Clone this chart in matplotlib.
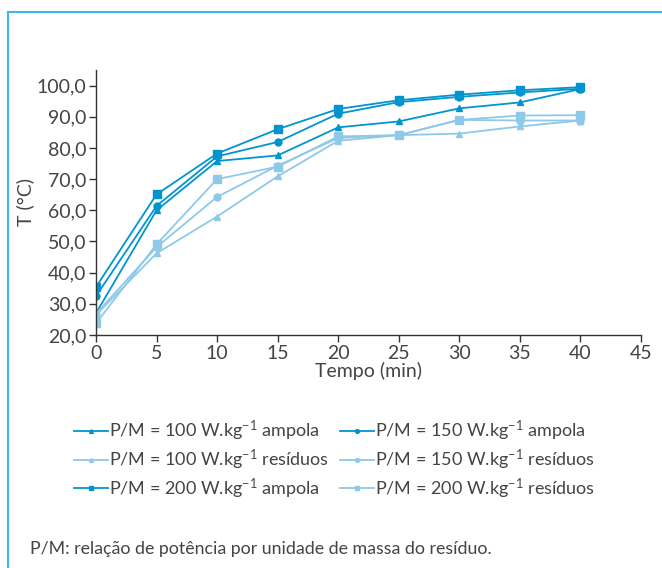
import matplotlib
matplotlib.use("Agg")
import matplotlib.pyplot as plt
from matplotlib.lines import Line2D

plt.rcParams['font.family'] = ['Lato', 'DejaVu Sans']
plt.rcParams['font.weight'] = 'normal'
plt.rcParams['mathtext.fontset'] = 'custom'
plt.rcParams['mathtext.rm'] = 'Lato'
plt.rcParams['mathtext.it'] = 'Lato'

tempo = [0, 5, 10, 15, 20, 25, 30, 35, 40]
p100_ampola = [27.0, 60.0, 75.8, 77.6, 86.6, 88.5, 92.7, 94.6, 98.9]
p150_ampola = [32.5, 61.4, 77.3, 81.9, 91.0, 94.7, 96.4, 97.8, 99.0]
p200_ampola = [35.4, 65.1, 78.2, 86.0, 92.5, 95.3, 97.1, 98.5, 99.5]
p100_residuos = [26.4, 46.2, 58.0, 70.9, 82.3, 84.1, 84.6, 86.9, 88.8]
p150_residuos = [26.8, 48.2, 64.3, 74.3, 83.2, 84.1, 89.0, 88.8, 88.8]
p200_residuos = [23.7, 49.1, 70.0, 74.0, 83.7, 84.1, 89.0, 90.4, 90.5]

xticks = [0, 5, 10, 15, 20, 25, 30, 35, 40, 45]
yticks = [20, 30, 40, 50, 60, 70, 80, 90, 100]
ytick_labels = ["20,0", "30,0", "40,0", "50,0", "60,0", "70,0", "80,0", "90,0", "100,0"]

labels = [
    "P/M = 100 W.kg$^{\\mathregular{-1}}$ ampola",
    "P/M = 100 W.kg$^{\\mathregular{-1}}$ resíduos",
    "P/M = 200 W.kg$^{\\mathregular{-1}}$ ampola",
    "P/M = 150 W.kg$^{\\mathregular{-1}}$ ampola",
    "P/M = 150 W.kg$^{\\mathregular{-1}}$ resíduos",
    "P/M = 200 W.kg$^{\\mathregular{-1}}$ resíduos",
]

DARK = '#0095cf'
LIGHT = '#8ec9ea'
TXT = '#444444'

fig = plt.figure(figsize=(6.62, 5.68), dpi=100)

# frame border
fig.add_artist(Line2D([8/662, 8/662], [0, 1 - 12/568], color='#3db7e8', lw=1.5))
fig.add_artist(Line2D([8/662, 1], [1 - 12/568, 1 - 12/568], color='#3db7e8', lw=1.5))

ax = fig.add_axes([96/662, 1 - 335/568, (641 - 96)/662, (335 - 70)/568])

series = [
    (p100_ampola, '^', DARK, 5, labels[0]),
    (p100_residuos, '^', LIGHT, 5, labels[1]),
    (p200_ampola, 's', DARK, 6, labels[2]),
    (p150_ampola, 'o', DARK, 5, labels[3]),
    (p150_residuos, 'o', LIGHT, 5, labels[4]),
    (p200_residuos, 's', LIGHT, 6, labels[5]),
]
handles = []
for ys, m, c, ms, lab in series:
    h, = ax.plot(tempo, ys, marker=m, color=c, ms=ms, lw=1.3, label=lab)
    handles.append(h)

ax.set_xlim(0, 45)
ax.set_ylim(20, 105)
ax.set_xticks(xticks)
ax.set_yticks(yticks)
ax.set_yticklabels(ytick_labels)
ax.spines['top'].set_visible(False)
ax.spines['right'].set_visible(False)
for s in ['left', 'bottom']:
    ax.spines[s].set_color('#333333')
    ax.spines[s].set_linewidth(1.0)
    ax.spines[s].set_clip_on(False)
ax.tick_params(axis='both', colors='#333333', labelcolor=TXT, labelsize=14, length=5, width=1.0, pad=2)
ax.set_xlabel("Tempo (min)", fontsize=14, color=TXT, labelpad=0)
ax.set_ylabel("T (°C)", fontsize=14, color=TXT, labelpad=2)

leg = fig.legend(handles=handles, loc='upper left', bbox_to_anchor=(74/662, 1 - 419/568),
                 ncol=2, frameon=False, fontsize=13, handlelength=1.9, handletextpad=0.05,
                 columnspacing=0.6, labelspacing=0.25, markerscale=0.55, borderaxespad=0, borderpad=0)
for t in leg.get_texts():
    t.set_color(TXT)

fig.text(30/662, 1 - 549/568, "P/M: relação de potência por unidade de massa do resíduo.",
         fontsize=12.8, color=TXT, va='center', ha='left')

fig.savefig("out.png", dpi=100)
